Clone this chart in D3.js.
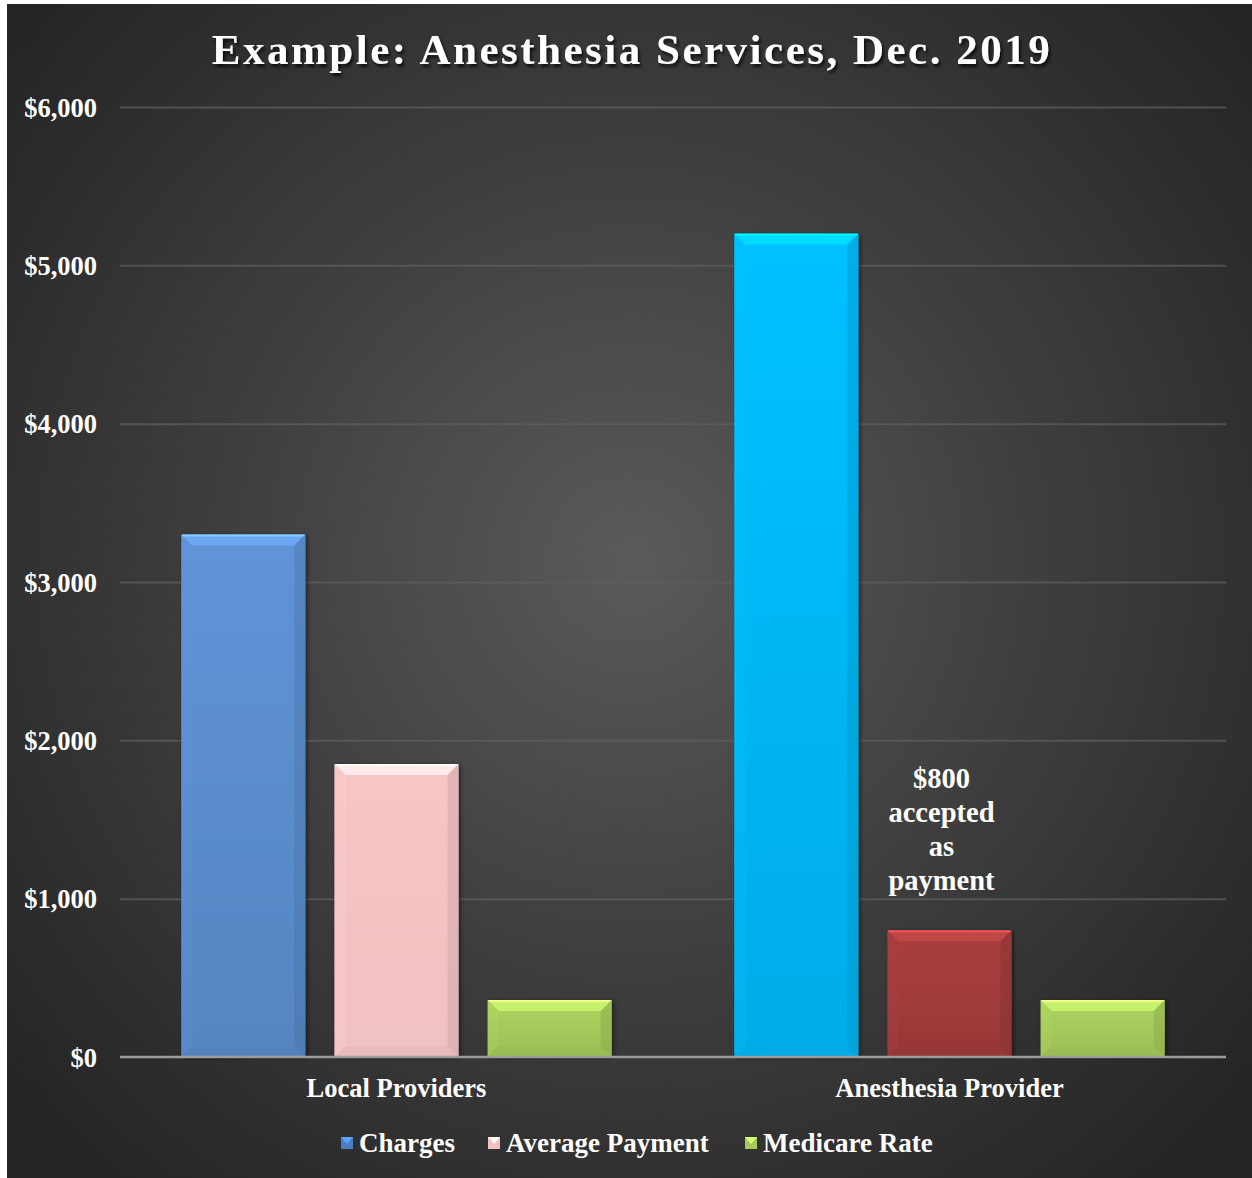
<!DOCTYPE html>
<html><head><meta charset="utf-8">
<script src="https://cdnjs.cloudflare.com/ajax/libs/d3/7.8.5/d3.min.js"></script>
<style>
html,body{margin:0;padding:0;background:#fff;}
svg{display:block;}
text{font-family:"Liberation Serif","Times New Roman",serif;font-weight:bold;fill:#fff;}
</style></head>
<body><svg id="c" width="1252" height="1178"></svg>
<script>
const categories = ["Local Providers", "Anesthesia Provider"];
const seriesNames = ["Charges", "Average Payment", "Medicare Rate"];
const charges = [3300, 5200];
const averagePayment = [1850, 800];
const medicareRate = [360, 360];
const yTicks = [0, 1000, 2000, 3000, 4000, 5000, 6000];
const title = "Example: Anesthesia Services, Dec. 2019";
const annotationLines = ["$800", "accepted", "as", "payment"];
// colours per series per category
const pointColors = [["#5a8ccc", "#00b6f5"], ["#f3c3c4", "#a03b3b"], ["#a5c95b", "#a5c95b"]];
const legendColors = ["#4a7fc4", "#f2c2c3", "#a5c95b"];

const svg = d3.select("#c");
const defs = svg.append("defs");
const rg = defs.append("radialGradient").attr("id","bg").attr("gradientUnits","userSpaceOnUse")
  .attr("cx",630).attr("cy",560).attr("r",800);
rg.append("stop").attr("offset","0").attr("stop-color","#5a5a5a");
rg.append("stop").attr("offset","0.55").attr("stop-color","#3c3c3c");
rg.append("stop").attr("offset","1").attr("stop-color","#252525");
const sh = defs.append("filter").attr("id","tshadow").attr("x","-10%").attr("y","-30%").attr("width","120%").attr("height","160%");
sh.append("feDropShadow").attr("dx",2).attr("dy",3).attr("stdDeviation",1.5).attr("flood-color","#000").attr("flood-opacity",0.7);
const bsh = defs.append("filter").attr("id","bshadow").attr("x","-10%").attr("y","-5%").attr("width","125%").attr("height","110%");
bsh.append("feDropShadow").attr("dx",2).attr("dy",1).attr("stdDeviation",2).attr("flood-color","#000").attr("flood-opacity",0.5);

svg.append("rect").attr("x",7).attr("y",4).attr("width",1245).attr("height",1174).attr("fill","url(#bg)");

const margin = {left:120, right:26, top:107, bottom:121};
const W = 1252, H = 1178;
const x0 = d3.scaleBand().domain(categories).range([margin.left, W-margin.right]).paddingInner(0).paddingOuter(0);
const x1 = d3.scaleBand().domain(seriesNames).range([0, x0.bandwidth()]).paddingInner(0.19).paddingOuter(0.40);
const y = d3.scaleLinear().domain([0,6000]).range([H-margin.bottom, margin.top]);

// gridlines
const yAxis = d3.axisLeft(y).tickValues(yTicks).tickSize(-(W-margin.left-margin.right)).tickPadding(23)
  .tickFormat(d => "$" + d3.format(",")(d));
const gy = svg.append("g").attr("transform",`translate(${margin.left},0)`).call(yAxis);
gy.select(".domain").remove();
gy.selectAll(".tick line").attr("stroke","#5e5e5e").attr("stroke-width",2).attr("opacity",0.75);
gy.selectAll(".tick text").attr("font-size",26.5).attr("fill","#fff").attr("font-family","Liberation Serif, serif").attr("font-weight","bold").attr("dy","0.34em");
gy.selectAll(".tick").filter(d=>d===0).select("line").attr("opacity",0);

// bars
const series = [charges, averagePayment, medicareRate];
const bars = [];
series.forEach((vals, si) => vals.forEach((v, ci) => bars.push({s:seriesNames[si], si, c:categories[ci], ci, v})));

bars.forEach((b,i) => {
  const col = d3.color(pointColors[b.si][b.ci]);
  const g = defs.append("linearGradient").attr("id","bg"+i).attr("x1",0).attr("y1",0).attr("x2",0).attr("y2",1);
  const k = b.si === 1 && b.ci === 0 ? 0.03 : 0.15;
  g.append("stop").attr("offset","0").attr("stop-color", col.brighter(k));
  g.append("stop").attr("offset","1").attr("stop-color", col.darker(k));
});

const gb = svg.append("g");
bars.forEach((b,i) => {
  const bx = x0(b.c) + x1(b.s), bw = x1.bandwidth(), by = y(b.v), bh = y(0) - y(b.v);
  const col = d3.color(pointColors[b.si][b.ci]);
  const g = gb.append("g");
  g.append("rect").attr("x",bx).attr("y",by).attr("width",bw).attr("height",bh)
    .attr("fill","url(#bg"+i+")").attr("filter","url(#bshadow)");
  const bev = Math.min(11, bh/4);
  g.append("path").attr("d",`M${bx},${by}L${bx+bw},${by}L${bx+bw-bev},${by+bev}L${bx+bev},${by+bev}Z`)
    .attr("fill", col.brighter(0.6)).attr("opacity",0.8);
  g.append("rect").attr("x",bx+1).attr("y",by).attr("width",bw-2).attr("height",2).attr("fill", col.brighter(1.2)).attr("opacity",0.8);
  g.append("path").attr("d",`M${bx},${by}L${bx+bev},${by+bev}L${bx+bev},${by+bh-bev}L${bx},${by+bh}Z`)
    .attr("fill", col.brighter(0.2)).attr("opacity",0.3);
  g.append("path").attr("d",`M${bx+bw},${by}L${bx+bw-bev},${by+bev}L${bx+bw-bev},${by+bh-bev}L${bx+bw},${by+bh}Z`)
    .attr("fill", col.darker(0.6)).attr("opacity",0.4);
  g.append("path").attr("d",`M${bx},${by+bh}L${bx+bev},${by+bh-bev}L${bx+bw-bev},${by+bh-bev}L${bx+bw},${by+bh}Z`)
    .attr("fill", col.darker(0.3)).attr("opacity",0.3);
});

// baseline
svg.append("line").attr("x1",margin.left).attr("x2",W-margin.right).attr("y1",y(0)).attr("y2",y(0))
  .attr("stroke","#9c9c9c").attr("stroke-width",2.5);

// category labels
const xAxis = d3.axisBottom(x0).tickSize(0).tickPadding(27);
const gx = svg.append("g").attr("transform",`translate(0,${y(0)})`).call(xAxis);
gx.select(".domain").remove();
gx.selectAll(".tick text").attr("font-size",26.5).attr("fill","#fff").attr("font-family","Liberation Serif, serif").attr("font-weight","bold").attr("dy","0.5em");

// title
svg.append("text").attr("x",632).attr("y",64).attr("text-anchor","middle").attr("font-size",43)
  .attr("letter-spacing","2.5px").attr("fill","#f2f2f2").attr("filter","url(#tshadow)").text(title);

// annotation
const ax = x0(categories[1]) + x1(seriesNames[1]) + x1.bandwidth()/2 - 8;
const at = svg.append("text").attr("text-anchor","middle").attr("font-size",28.5).attr("fill","#fff");
annotationLines.forEach((l,i) => at.append("tspan").attr("x",ax).attr("y", y(averagePayment[1]) - 142 + i*34).text(l));

// legend
const legendY = 1143;
const lg = svg.append("g");
const legendX = [341, 488, 745];
seriesNames.forEach((n,i) => {
  const col = d3.color(legendColors[i]);
  lg.append("rect").attr("x",legendX[i]).attr("y",legendY-6).attr("width",12).attr("height",12).attr("fill",col);
  lg.append("path").attr("d",`M${legendX[i]},${legendY-6}L${legendX[i]+12},${legendY-6}L${legendX[i]+6},${legendY+1}Z`).attr("fill",col.brighter(0.7));
  lg.append("text").attr("x",legendX[i]+18).attr("y",legendY).attr("dy","0.35em").attr("font-size",27).text(n);
});
</script></body></html>
